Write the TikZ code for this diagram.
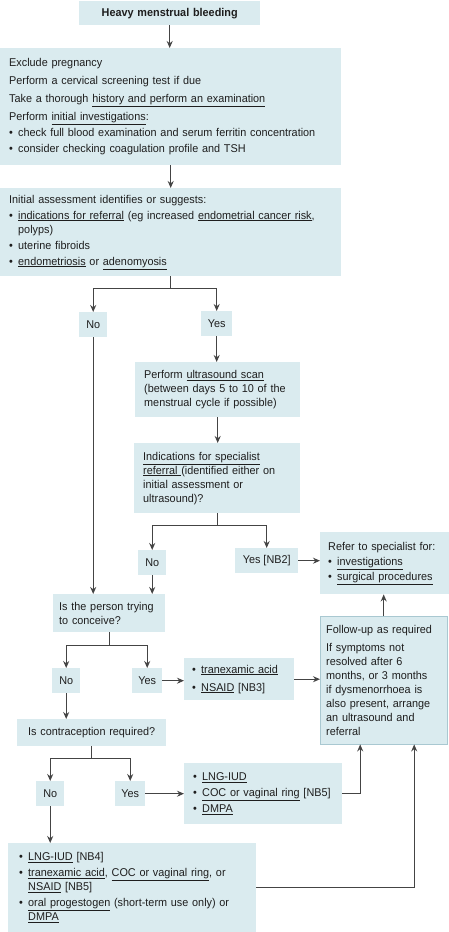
\documentclass[tikz,border=0pt]{standalone}
\usepackage{fontspec}
\setmainfont{Liberation Sans}[FakeStretch=0.96]
\usetikzlibrary{positioning,arrows.meta}

\definecolor{boxfill}{HTML}{DAEBEF}
\definecolor{boxedge}{HTML}{A9C8D1}
\definecolor{linegray}{HTML}{444444}
\definecolor{textgray}{HTML}{1E1E1E}

\newcommand\lnk[1]{\underline{#1}}
\newcommand\bul{\makebox[9pt][l]{\textbullet}}
\newcommand\cont{\hspace*{9pt}}

\tikzset{%
  every box/.style={
    fill=boxfill,
    anchor=north west,
    inner xsep=9pt,
    inner ysep=0pt,
    align=left,
    text=textgray,
    font=\fontsize{11.3}{14}\selectfont
  },
  answer box/.style={
    every box,
    inner sep=0pt,
    align=center,
    minimum height=25pt
  },
  flow/.style={
    ->,
    draw=linegray,
    line width=1.2pt
  },
}

\begin{document}
\begin{tikzpicture}[x=1pt, y=-1pt, >={Stealth[length=7pt,width=6pt]}]

  \useasboundingbox (0,0) rectangle (449,932);

  % main column
  \node [every box, text width=163pt, minimum height=24pt, align=center,
    font=\fontsize{11.3}{14}\selectfont\bfseries] (start) at (79,1) {Heavy menstrual bleeding};

  \node [every box, text width=323pt, minimum height=117pt] (first) at (0,48) {%
    Exclude pregnancy\\[4pt]
    Perform a cervical screening test if due\\[4pt]
    Take a thorough \lnk{history and perform an examination}\\[4pt]
    Perform \lnk{initial investigations}:\\[2pt]
    \bul check full blood examination and serum ferritin concentration\\[2pt]
    \bul consider checking coagulation profile and TSH};

  \node [every box, text width=323pt, minimum height=88pt] (assess) at (0,188) {%
    Initial assessment identifies or suggests:\\[2pt]
    \bul \lnk{indications for referral} (eg increased \lnk{endometrial cancer risk},\\
    \cont polyps)\\[2pt]
    \bul uterine fibroids\\[2pt]
    \bul \lnk{endometriosis} or \lnk{adenomyosis}};

  \node [every box, text width=147pt, minimum height=55pt] (scan) at (135,362) {%
    Perform \lnk{ultrasound scan}\\
    (between days 5 to 10 of the\\
    menstrual cycle if possible)};

  \node [every box, text width=148pt, minimum height=70pt] (indic) at (134,443) {%
    \lnk{Indications for specialist}\\
    \lnk{referral }(identified either on\\
    initial assessment or\\
    ultrasound)?};

  \node [every box, inner xsep=8pt, text width=113pt, minimum height=62pt] (refer) at (320,532) {%
    Refer to specialist for:\\[1pt]
    \bul \lnk{investigations}\\[1pt]
    \bul \lnk{surgical procedures}};

  \node [every box, inner xsep=6pt, text width=100pt, minimum height=38pt] (conceive) at (53,594) {%
    Is the person trying\\
    to conceive?};

  \node [every box, inner xsep=8pt, text width=94pt, minimum height=42pt] (nsaid) at (184,658) {%
    \bul \lnk{tranexamic acid}\\[4pt]
    \bul \lnk{NSAID} [NB3]};

  \node [every box, draw=boxedge, inner xsep=6pt, text width=115pt, minimum height=128pt] (follow) at (320,616) {%
    Follow-up as required\\[4pt]
    If symptoms not\\
    resolved after 6\\
    months, or 3 months\\
    if dysmenorrhoea is\\
    also present, arrange\\
    an ultrasound and\\
    referral};

  \node [every box, text width=131pt, minimum height=27pt, align=center] (contra) at (17,719) {%
    Is contraception required?};

  \node [every box, text width=140pt, minimum height=61pt] (hormonal) at (184,763) {%
    \bul \lnk{LNG-IUD}\\[2pt]
    \bul \lnk{COC or vaginal ring} [NB5]\\[2pt]
    \bul \lnk{DMPA}};

  \node [every box, inner xsep=11pt, text width=226pt, minimum height=89pt] (bottom) at (8,843) {%
    \bul \lnk{LNG-IUD} [NB4]\\[2pt]
    \bul \lnk{tranexamic acid}, \lnk{COC or vaginal ring}, or\\
    \cont \lnk{NSAID} [NB5]\\[2pt]
    \bul \lnk{oral progestogen} (short-term use only) or\\
    \cont \lnk{DMPA}};

  % yes / no answers
  \foreach \n/\t/\x/\y/\w in {no1/No/79/312/28, yes1/Yes/201/311/31,
      no2/No/138/550/28, yesnb/Yes [NB2]/235/548/63,
      no3/No/52/668/28, yes3/Yes/132/668/30,
      no4/No/36/781/28, yes4/Yes/115/781/30}
    \node [answer box, minimum width=\w pt] (\n) at (\x,\y) {\t};

  % branch points
  \coordinate [below=12pt of assess.south] (split1);
  \coordinate [below=12pt of indic.south] (split2);
  \coordinate [below=13pt of conceive.south] (split3);
  \coordinate [below=12pt of contra.south] (split4);

  \draw [flow] (start.south) -- (start.south |- first.north);
  \draw [flow] (first.south) -- (first.south |- assess.north);

  \foreach \a/\s/\l/\r in {assess/split1/no1/yes1, indic/split2/no2/yesnb,
      conceive/split3/no3/yes3, contra/split4/no4/yes4} {
    \draw [flow, -] (\a.south) -- (\s);
    \draw [flow] (\s) -| (\l);
    \draw [flow] (\s) -| (\r);
  }

  \draw [flow] (yes1) -- (yes1 |- scan.north);
  \draw [flow] (scan.south) -- (scan.south |- indic.north);
  \draw [flow] (no1) -- (no1 |- conceive.north);
  \draw [flow] (no2) -- (no2 |- conceive.north);
  \draw [flow] (no3) -- (no3 |- contra.north);
  \draw [flow] (no4) -- (no4 |- bottom.north);

  \draw [flow] (yesnb) -- (yesnb -| refer.west);
  \draw [flow] (yes3) -- (yes3 -| nsaid.west);
  \draw [flow] (yes4) -- (yes4 -| hormonal.west);
  \draw [flow] (nsaid) -- (nsaid -| follow.west);
  \draw [flow] (follow.north) -- (follow.north |- refer.south);
  \draw [flow] (hormonal.east) -| ([xshift=-23.5pt]follow.south);
  \draw [flow] (bottom.east) -| ([xshift=30.5pt]follow.south);

\end{tikzpicture}
\end{document}
